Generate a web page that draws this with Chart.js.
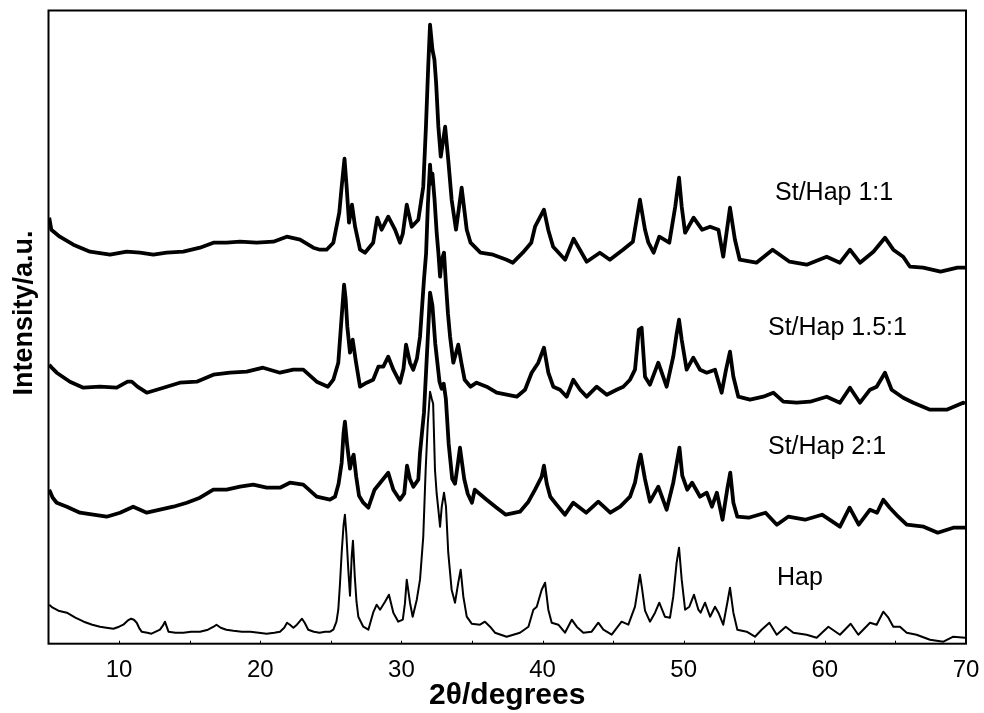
<!DOCTYPE html>
<html>
<head>
<meta charset="utf-8">
<script src="https://cdn.jsdelivr.net/npm/chart.js@4.4.1/dist/chart.umd.min.js"></script>
<style>
  html, body { margin: 0; padding: 0; background: #fff; }
  #wrap { width: 984px; height: 713px; position: relative; }
</style>
</head>
<body>
<div id="wrap"><canvas id="c"></canvas></div>
<script>
// ---------- DATA (2θ in degrees, intensity in arbitrary units) ----------
const xTicks = [10, 20, 30, 40, 50, 60, 70];
const seriesNames = ["Hap", "St/Hap 2:1", "St/Hap 1.5:1", "St/Hap 1:1"];

const hapX = [5.05,5.3,5.7,6.3,6.9,7.5,8.1,8.65,9.1,9.6,10.0,10.3,10.6,10.85,11.05,11.25,11.45,11.6,12.0,12.3,12.6,12.9,13.1,13.25,13.4,13.5,14.0,14.55,15.1,15.73,16.3,16.7,16.9,17.2,17.6,18.1,18.7,19.3,19.9,20.45,21.0,21.4,21.7,21.9,22.1,22.35,22.6,22.96,23.15,23.4,23.8,24.2,24.6,24.95,25.18,25.4,25.53,25.65,25.77,25.9,26.0,26.1,26.24,26.36,26.48,26.57,26.7,26.82,26.95,27.3,27.66,28.0,28.25,28.49,28.84,29.12,29.43,29.78,30.1,30.25,30.38,30.5,30.61,30.8,31.09,31.32,31.55,31.72,31.87,32.03,32.15,32.25,32.38,32.5,32.62,32.74,32.86,33.02,33.16,33.32,33.56,33.8,34.03,34.2,34.39,34.63,34.98,35.57,35.92,36.28,36.63,37.46,38.4,39.0,39.35,39.59,39.94,40.18,40.41,40.65,41.12,41.59,42.07,42.42,42.89,43.48,43.95,44.31,44.9,45.6,46.08,46.55,46.75,46.9,47.05,47.26,47.61,47.97,48.27,48.67,49.03,49.26,49.5,49.67,49.86,50.1,50.4,50.73,51.04,51.2,51.51,51.87,52.22,52.46,52.8,53.09,53.28,53.52,53.8,54.46,55.05,55.52,56.07,56.59,57.23,57.77,58.71,59.42,60.25,61.07,61.83,62.37,63.2,63.67,64.14,64.5,64.85,65.32,65.8,66.5,67.45,68.4,69.1,69.93];
const hapY = [39,36,33,31,26,22,19,17,16,15,17,19,23,25,24,21,15,12,11,10,12,14,18,22,16,12,11,11,12,12,14,17,19,16,14,13,12,12,11,10,11,12,16,21,19,16,19,25,21,14,12,11,12,12,14,22,34,60,91,118,129,110,74,48,87,103,67,42,27,17,14,31,39,34,42,49,31,22,24,40,64,52,41,27,44,64,107,174,220,252,245,240,174,150,134,117,137,151,137,91,54,41,61,74,47,27,20,19,22,17,11,7,11,17,34,37,54,61,34,21,19,11,24,17,11,12,21,14,9,22,19,37,55,69,55,33,22,31,41,27,26,47,81,96,64,34,37,49,34,31,41,27,37,31,19,41,56,31,14,12,7,14,21,9,17,11,9,6,17,9,20,9,21,19,32,26,17,17,11,9,4,2,7,6];

const st21X = [5.05,5.3,5.58,6.3,7.23,8.17,9.12,10.07,11.0,11.96,12.9,13.84,14.8,15.73,16.68,17.62,18.57,19.5,20.46,21.4,22.1,23.05,24.0,24.94,25.3,25.55,25.77,25.9,26.0,26.15,26.36,26.5,26.62,26.8,27.0,27.3,27.66,28.1,28.5,29.07,29.43,29.9,30.2,30.4,30.6,30.85,31.2,31.32,31.6,31.85,32.03,32.2,32.4,32.7,32.85,33.0,33.15,33.35,33.6,33.8,34.0,34.15,34.45,34.7,35.0,35.2,36.04,36.75,37.4,38.4,39.0,39.47,39.94,40.1,40.3,40.55,41.0,41.59,42.18,43.1,43.95,44.8,45.5,46.2,46.55,46.8,46.95,47.25,47.61,48.2,48.79,49.26,49.5,49.7,49.9,50.25,50.6,51.16,51.63,52.0,52.35,52.75,53.08,53.3,53.52,53.8,54.6,55.8,56.6,57.4,58.6,59.8,61.07,61.75,62.4,63.2,63.7,64.14,64.6,65.2,65.8,67.0,68.0,69.1,69.93];
const st21Y = [154,146,141,137,131,129,127,131,137,131,134,137,141,146,154,154,157,159,156,156,161,159,147,144,147,160,181,210,222,200,175,185,189,167,148,141,136,154,161,171,154,144,150,178,165,157,164,191,231,300,351,338,300,262,255,260,245,200,165,160,180,196,165,150,141,154,144,136,129,132,142,154,167,178,160,147,139,129,141,131,142,131,137,147,161,180,189,165,142,157,134,161,180,196,168,154,161,147,151,137,151,124,154,171,141,127,126,131,119,127,124,129,117,136,119,134,131,144,136,127,119,117,111,116,116];

const st15X = [5.05,5.3,5.58,6.52,7.47,8.65,9.83,10.6,10.9,11.3,11.96,13.14,14.3,15.5,16.68,17.86,19.04,20.2,21.4,22.34,23.05,24.0,24.8,25.18,25.53,25.77,25.94,26.05,26.17,26.36,26.55,26.79,27.07,27.54,28.0,28.37,28.72,29.07,29.43,29.9,30.15,30.33,30.61,30.84,31.1,31.32,31.6,31.75,31.88,32.03,32.12,32.2,32.35,32.5,32.62,32.74,32.86,33.02,33.15,33.3,33.45,33.68,34.03,34.25,34.48,34.9,35.33,36.04,36.75,37.46,38.17,38.76,39.23,39.7,40.1,40.41,40.76,41.24,41.71,42.18,42.66,43.13,43.84,44.55,45.25,45.72,46.2,46.55,46.82,47.02,47.26,47.61,48.2,48.79,49.26,49.5,49.67,49.86,50.21,50.68,51.16,51.63,52.22,52.69,53.0,53.28,53.52,53.87,54.7,55.64,56.35,57.06,58.0,58.95,60.13,61.07,61.78,62.49,63.2,63.67,64.26,64.73,65.55,66.27,67.45,68.63,69.8,69.93];
const st15Y = [279,275,271,262,256,257,256,262,262,257,251,256,261,262,269,271,272,276,271,274,274,262,257,264,281,327,359,345,317,291,304,281,257,261,264,277,277,287,274,261,275,299,281,274,285,307,364,390,440,479,460,470,444,411,391,367,384,391,361,330,307,281,299,281,264,257,261,257,251,249,247,254,271,281,296,271,257,254,247,264,254,247,257,249,254,257,264,274,314,316,267,259,281,257,287,310,324,304,274,286,274,271,274,251,274,292,267,247,244,247,251,242,241,242,247,241,256,241,254,257,271,254,246,241,234,234,241,240];

const st11X = [5.05,5.2,5.8,6.76,7.94,9.36,10.54,11.48,12.43,13.37,14.55,15.73,16.68,17.62,18.57,19.75,20.93,21.88,22.82,23.76,24.23,24.7,25.18,25.6,25.77,25.97,26.12,26.29,26.5,26.72,27.07,27.42,28.0,28.29,28.6,29.07,29.55,29.9,30.1,30.38,30.73,31.2,31.55,31.74,31.9,32.03,32.2,32.34,32.46,32.62,32.79,33.1,33.32,33.56,33.87,34.27,34.63,34.9,35.6,36.5,37.45,37.9,38.6,39.2,39.47,40.1,40.4,40.75,41.6,42.2,43.13,44.06,44.77,45.7,46.4,46.9,47.26,47.5,47.87,48.27,48.98,49.4,49.67,49.86,50.1,50.7,51.3,51.87,52.46,52.8,53.28,53.63,53.97,55.15,56.3,57.5,58.71,60.13,61.07,61.78,62.49,63.44,64.26,64.85,65.55,66.03,66.97,68.2,69.39,69.93];
const st11Y = [426,414,407,399,392,389,392,391,389,391,392,396,401,401,402,401,402,407,404,396,394,394,401,431,457,485,457,421,439,417,394,391,401,426,414,427,414,401,410,439,417,424,457,517,577,619,594,584,561,517,487,517,484,444,414,456,414,401,391,389,384,381,391,401,417,434,414,397,384,405,382,391,384,394,402,444,414,401,391,407,401,437,466,437,411,426,414,417,414,387,436,404,384,381,394,382,379,387,381,394,381,392,406,394,387,377,376,372,376,376];

// annotation text placed next to each pattern (2θ position, intensity position)
const labelTexts = ["St/Hap 1:1", "St/Hap 1.5:1", "St/Hap 2:1", "Hap"];
const labelX = [56.47, 55.97, 55.97, 56.61];
const labelY = [444, 309, 190, 59];
const xTitle = "2θ/degrees";
const yTitle = "Intensity/a.u.";

// ---------- CHART ----------
const FONT = 'Arial, "Liberation Sans", Helvetica, sans-serif';
const toPts = (xs, ys) => xs.map((x, i) => ({ x: x, y: ys[i] }));
const allX = [hapX, st21X, st15X, st11X];
const allY = [hapY, st21Y, st15Y, st11Y];

const datasets = seriesNames.map((n, i) => ({
  label: n,
  data: toPts(allX[i], allY[i]),
  borderColor: '#000',
  borderWidth: i === 0 ? 2 : 3.8,
  borderJoinStyle: 'round',
  pointRadius: 0,
  tension: 0,
  fill: false
}));

const framePlugin = {
  id: 'frame',
  afterDraw(chart) {
    const { ctx, chartArea: a, scales } = chart;
    ctx.save();
    ctx.strokeStyle = '#000';
    ctx.lineWidth = 2;
    ctx.strokeRect(a.left, a.top, a.right - a.left, a.bottom - a.top);
    // small inside tick marks every 5 degrees on the bottom axis
    ctx.lineWidth = 1;
    for (let v = 10; v < 70; v += 5) {
      const px = Math.round(scales.x.getPixelForValue(v)) + 0.5;
      ctx.beginPath();
      ctx.moveTo(px, a.bottom);
      ctx.lineTo(px, a.bottom - 3);
      ctx.stroke();
    }
    ctx.fillStyle = '#000';
    // pattern labels
    ctx.font = '25px ' + FONT;
    ctx.textBaseline = 'alphabetic';
    ctx.textAlign = 'left';
    labelTexts.forEach((t, i) => {
      ctx.fillText(t, scales.x.getPixelForValue(labelX[i]), scales.y.getPixelForValue(labelY[i]));
    });
    // axis titles
    ctx.textAlign = 'center';
    ctx.font = 'bold 30px ' + FONT;
    ctx.fillText(xTitle, (a.left + a.right) / 2, 704);
    ctx.font = 'bold 27px ' + FONT;
    ctx.save();
    ctx.translate(32, 313);
    ctx.rotate(-Math.PI / 2);
    ctx.fillText(yTitle, 0, 0);
    ctx.restore();
    ctx.restore();
  }
};

new Chart(document.getElementById('c'), {
  type: 'line',
  data: { datasets },
  options: {
    responsive: true,
    maintainAspectRatio: false,
    animation: false,
    events: [],
    layout: { padding: { top: 10.5, right: 18, left: 0, bottom: 0 } },
    plugins: { legend: { display: false }, tooltip: { enabled: false } },
    scales: {
      x: {
        type: 'linear',
        min: 5, max: 70,
        afterBuildTicks(scale) { scale.ticks = xTicks.map(v => ({ value: v })); },
        afterFit(scale) { scale.height = 69.3; },
        grid: { display: false },
        border: { display: false },
        ticks: { color: '#000', padding: 4, maxRotation: 0, font: { family: FONT, size: 24 } },
        title: { display: false }
      },
      y: {
        min: 0, max: 633.2,
        afterFit(scale) { scale.width = 48.5; },
        grid: { display: false },
        border: { display: false },
        ticks: { display: false },
        title: { display: false }
      }
    }
  },
  plugins: [framePlugin]
});
</script>
</body>
</html>
